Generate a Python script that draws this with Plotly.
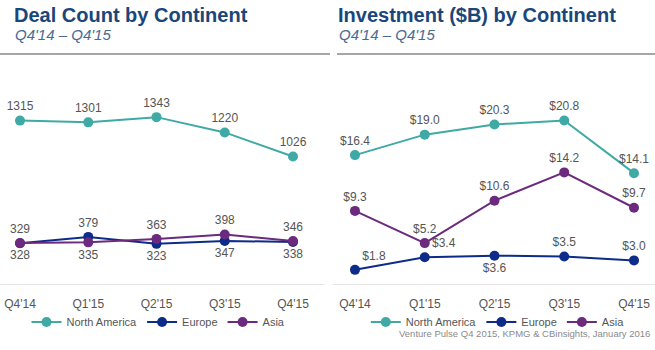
import plotly.graph_objects as go

quarters = ["Q4'14", "Q1'15", "Q2'15", "Q3'15", "Q4'15"]

deal_na = [1315, 1301, 1343, 1220, 1026]
deal_eu = [328, 379, 323, 347, 338]
deal_asia = [329, 335, 363, 398, 346]

inv_na = [16.4, 19.0, 20.3, 20.8, 14.1]
inv_eu = [1.8, 3.4, 3.6, 3.5, 3.0]
inv_asia = [9.3, 5.2, 10.6, 14.2, 9.7]

C_NA = "#3fa9a5"
C_EU = "#0d2c8a"
C_AS = "#6b2a7d"
FAM = "Liberation Sans, Arial, sans-serif"
LBL = dict(family=FAM, size=12, color="#555555")

deal_eu_pos = ["bottom center", "top center", "bottom center", "bottom center", "bottom center"]
deal_as_pos = ["top center", "bottom center", "top center", "top center", "top center"]
inv_eu_pos = ["top right", "top right", "bottom center", "top center", "top center"]

fig = go.Figure()

def add(x, y, color, name, xa, ya, legend, textpos, fmt):
    fig.add_trace(go.Scatter(
        x=x, y=y, mode="lines+markers+text", name=name,
        line=dict(color=color, width=2), marker=dict(color=color, size=10),
        text=[fmt(v) for v in y], textposition=textpos, textfont=LBL,
        xaxis=xa, yaxis=ya, legend=legend, cliponaxis=False,
        hoverinfo="skip"))

add(quarters, deal_na, C_NA, "North America", "x", "y", "legend", "top center", lambda v: f"{v}")
add(quarters, deal_eu, C_EU, "Europe", "x", "y", "legend", deal_eu_pos, lambda v: f"{v}")
add(quarters, deal_asia, C_AS, "Asia", "x", "y", "legend", deal_as_pos, lambda v: f"{v}")

add(quarters, inv_na, C_NA, "North America", "x2", "y2", "legend2", "top center", lambda v: f"${v:.1f}")
add(quarters, inv_eu, C_EU, "Europe", "x2", "y2", "legend2", inv_eu_pos, lambda v: f"${v:.1f}")
add(quarters, inv_asia, C_AS, "Asia", "x2", "y2", "legend2", "top center", lambda v: f"${v:.1f}")

xcommon = dict(showgrid=False, zeroline=False, showline=True, linecolor="#e6e6e6", linewidth=1,
               ticks="", tickfont=dict(family=FAM, size=12, color="#555555"),
               ticklabelstandoff=9, fixedrange=True)
ycommon = dict(showgrid=False, zeroline=False, showticklabels=False, showline=False, fixedrange=True)

LEGFONT = dict(family=FAM, size=11, color="#555555")
fig.update_layout(
    width=655, height=350, margin=dict(l=0, r=0, t=0, b=0),
    paper_bgcolor="white", plot_bgcolor="white",
    xaxis=dict(domain=[0, 0.4962], range=[-0.293, 4.469], **xcommon),
    xaxis2=dict(domain=[0.5084, 1], range=[-0.315, 4.301], anchor="y2", **xcommon),
    yaxis=dict(domain=[0.1886, 0.8286], range=[0, 1803], anchor="x", **ycommon),
    yaxis2=dict(domain=[0.1886, 0.8286], range=[0, 28.5], anchor="x2", **ycommon),
    legend=dict(orientation="h", x=0.242, xanchor="center", y=0.08, yanchor="middle",
                font=LEGFONT, itemwidth=30, tracegroupgap=0, bgcolor="rgba(0,0,0,0)"),
    legend2=dict(orientation="h", x=0.76, xanchor="center", y=0.08, yanchor="middle",
                 font=LEGFONT, itemwidth=30, tracegroupgap=0, bgcolor="rgba(0,0,0,0)"),
    showlegend=True,
)

TFONT = dict(family=FAM, size=20, color="#1b467a")
SFONT = dict(family=FAM, size=15, color="#4a6a90")
ann = [
    dict(text="<b>Deal Count by Continent</b>", x=12/655, y=1-15/350, font=TFONT),
    dict(text="<i>Q4'14 – Q4'15</i>", x=13/655, y=1-35/350, font=SFONT),
    dict(text="<b>Investment ($B) by Continent</b>", x=336/655, y=1-15/350, font=TFONT),
    dict(text="<i>Q4'14 – Q4'15</i>", x=337/655, y=1-35/350, font=SFONT),
]
for a in ann:
    fig.add_annotation(xref="paper", yref="paper", xanchor="left", yanchor="middle",
                       showarrow=False, **a)
fig.add_annotation(xref="paper", yref="paper", x=652/655, y=1-333/350, xanchor="right", yanchor="middle",
                   showarrow=False, text="Venture Pulse Q4 2015, KPMG & CBinsights, January 2016",
                   font=dict(family=FAM, size=9.5, color="#8a8a8a"))

fig.add_shape(type="line", xref="paper", yref="paper", x0=0, x1=330/655, y0=1-54/350, y1=1-54/350,
              line=dict(color="#a6a6a6", width=2))
fig.add_shape(type="line", xref="paper", yref="paper", x0=337/655, x1=1, y0=1-54/350, y1=1-54/350,
              line=dict(color="#a6a6a6", width=2))

fig.write_html("out.html")
